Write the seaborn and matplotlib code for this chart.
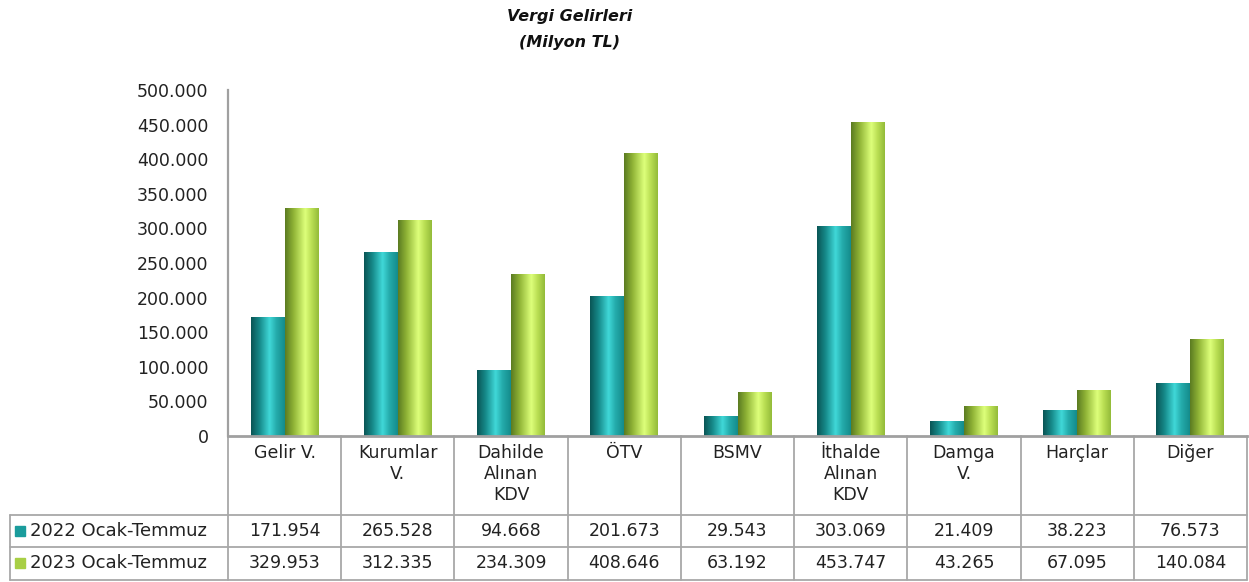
import numpy as np
import pandas as pd
import matplotlib
matplotlib.use("Agg")
import matplotlib.pyplot as plt
import matplotlib.transforms as mtransforms
from matplotlib.colors import LinearSegmentedColormap
import seaborn as sns

categories = ["Gelir V.", "Kurumlar\nV.", "Dahilde\nAlınan\nKDV", "ÖTV", "BSMV",
              "İthalde\nAlınan\nKDV", "Damga\nV.", "Harçlar", "Diğer"]
series_names = ["2022 Ocak-Temmuz", "2023 Ocak-Temmuz"]
values_2022 = [171954, 265528, 94668, 201673, 29543, 303069, 21409, 38223, 76573]
values_2023 = [329953, 312335, 234309, 408646, 63192, 453747, 43265, 67095, 140084]
yticks = [0, 50000, 100000, 150000, 200000, 250000, 300000, 350000, 400000, 450000, 500000]

sns.set_theme(style="white")
plt.rcParams['font.family'] = ['DejaVu Sans']

df = pd.DataFrame({
    "cat": categories * 2,
    "year": [series_names[0]] * len(categories) + [series_names[1]] * len(categories),
    "val": values_2022 + values_2023,
})

fig = plt.figure(figsize=(12.49, 5.82), dpi=100)
L, R, B, T = 228 / 1249, 1247 / 1249, (582 - 436) / 582, (582 - 90) / 582
ax = fig.add_axes([L, B, R - L, T - B])

base_colors = {series_names[0]: "#1a9c9c", series_names[1]: "#a8cf45"}
sns.barplot(data=df, x="cat", y="val", hue="year", order=categories,
            hue_order=series_names, palette=base_colors, width=0.6, gap=0,
            ax=ax, legend=False, saturation=1)

cmaps = {
    series_names[0]: LinearSegmentedColormap.from_list(
        "teal", [(0, "#0a5656"), (0.25, "#168a8a"), (0.55, "#40d8d8"), (0.75, "#25acac"), (1, "#148c8c")]),
    series_names[1]: LinearSegmentedColormap.from_list(
        "green", [(0, "#5c7c22"), (0.25, "#90b436"), (0.6, "#ddff7a"), (0.8, "#b8dd52"), (1, "#94bc3a")]),
}
grad = np.linspace(0, 1, 64).reshape(1, -1)
patches = list(ax.patches)
n = len(categories)
for i, p in enumerate(patches):
    name = series_names[0] if i < n else series_names[1]
    x0, y0 = p.get_x(), p.get_y()
    w, h = p.get_width(), p.get_height()
    p.set_edgecolor("none")
    im = ax.imshow(grad, cmap=cmaps[name], aspect="auto",
                   extent=[x0, x0 + w, y0, y0 + h], zorder=p.get_zorder() + 0.1)
    im.set_clip_path(p)

ax.set_xlim(-0.5, n - 0.5)
ax.set_ylim(0, 500000)
ax.set_yticks(yticks)
ax.set_yticklabels([f"{v:,}".replace(",", ".") for v in yticks], fontsize=12.5, color="#222222")
ax.tick_params(axis="y", length=0, pad=14)
ax.set_xticks([])
ax.set_xlabel("")
ax.set_ylabel("")
for s in ["top", "right"]:
    ax.spines[s].set_visible(False)
ax.spines["left"].set_color("#a0a0a0")
ax.spines["left"].set_linewidth(1.6)
ax.spines["bottom"].set_color("#a0a0a0")
ax.spines["bottom"].set_linewidth(2)

# Data table drawn below the axes
trans = mtransforms.blended_transform_factory(ax.transData, ax.transAxes)
H = 346.0
def yf(py):
    return (436 - py) / H
left_x = -0.5 - (228 - 10) / ((1247 - 228) / n)
lc = "#a8a8a8"
lw = 1.3
for k in range(n + 1):
    xb = -0.5 + k
    ax.plot([xb, xb], [yf(436), yf(580)], color=lc, lw=lw, transform=trans, clip_on=False)
ax.plot([left_x, left_x], [yf(515), yf(580)], color=lc, lw=lw, transform=trans, clip_on=False)
for py in [515, 547, 580]:
    ax.plot([left_x, n - 0.5], [yf(py), yf(py)], color=lc, lw=lw, transform=trans, clip_on=False)

for k, c in enumerate(categories):
    ax.text(k, yf(444), c, ha="center", va="top", fontsize=12.5, color="#222222",
            linespacing=1.2, transform=trans)
for row, (name, vals, py) in enumerate([(series_names[0], values_2022, 531),
                                         (series_names[1], values_2023, 563)]):
    for k, v in enumerate(vals):
        ax.text(k, yf(py), f"{v:,}".replace(",", "."), ha="center", va="center",
                fontsize=12.5, color="#222222", transform=trans)
    ax.text(left_x + 0.18, yf(py), name, ha="left", va="center", fontsize=13,
            color="#222222", transform=trans)
    ax.plot([left_x + 0.09], [yf(py)], marker="s", markersize=6.5, color=base_colors[name],
            transform=trans, clip_on=False, linestyle="none")

fig.text(570 / 1249, 1 - 16 / 582, "Vergi Gelirleri", ha="center", va="center",
         fontsize=11.5, fontweight="bold", fontstyle="italic", color="#111111")
fig.text(570 / 1249, 1 - 42 / 582, "(Milyon TL)", ha="center", va="center",
         fontsize=11.5, fontweight="bold", fontstyle="italic", color="#111111")

fig.savefig("out.png", dpi=100)
